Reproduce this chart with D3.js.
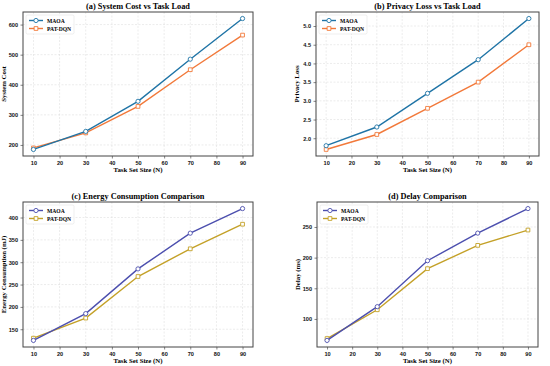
<!DOCTYPE html>
<html>
<head>
<meta charset="utf-8">
<script src="https://cdn.jsdelivr.net/npm/d3@7"></script>
<style>
  body { margin: 0; background: #fff; }
  svg { display: block; font-family: "Liberation Serif", "Times New Roman", serif; font-weight: bold; }
  .grid line { stroke: #d8d8d8; stroke-dasharray: 2,1.5; stroke-width: 0.5; }
  .axis path { display: none; }
  .axis line { stroke: #333; stroke-width: 0.6; }
  .axis text { font-size: 5.6px; font-weight: bold; fill: #111; }
</style>
</head>
<body>
<script>
'use strict';
/* global d3 */

// task set sizes shared by all four panels
const taskSizes = [10, 30, 50, 70, 90];
const xTicks = [10, 20, 30, 40, 50, 60, 70, 80, 90];

const costMAOA = [185, 245, 345, 485, 620];
const costPAT = [190, 240, 328, 450, 565];
const costTicks = [200, 300, 400, 500, 600];

const privMAOA = [1.8, 2.3, 3.2, 4.1, 5.2];
const privPAT = [1.7, 2.1, 2.8, 3.5, 4.5];
const privTicks = [2.0, 2.5, 3.0, 3.5, 4.0, 4.5, 5.0];

const energyMAOA = [125, 185, 285, 365, 420];
const energyPAT = [130, 175, 268, 330, 385];
const energyTicks = [150, 200, 250, 300, 350, 400];

const delayMAOA = [65, 120, 195, 240, 280];
const delayPAT = [68, 115, 182, 220, 245];
const delayTicks = [100, 150, 200, 250];

const panels = [
  { title: '(a) System Cost vs Task Load', ylabel: 'System Cost', a: costMAOA, b: costPAT,
    ticks: costTicks, fmt: d3.format('d'), colA: '#1f74a6', colB: '#f2793a',
    box: { l: 23, r: 253, t: 12, b: 156 } },
  { title: '(b) Privacy Loss vs Task Load', ylabel: 'Privacy Loss', a: privMAOA, b: privPAT,
    ticks: privTicks, fmt: d3.format('.1f'), colA: '#1f74a6', colB: '#f2793a',
    box: { l: 316, r: 539, t: 12, b: 156 } },
  { title: '(c) Energy Consumption Comparison', ylabel: 'Energy Consumption (mJ)', a: energyMAOA, b: energyPAT,
    ticks: energyTicks, fmt: d3.format('d'), colA: '#4c4fae', colB: '#c4a128',
    box: { l: 23, r: 253, t: 202, b: 347 } },
  { title: '(d) Delay Comparison', ylabel: 'Delay (ms)', a: delayMAOA, b: delayPAT,
    ticks: delayTicks, fmt: d3.format('d'), colA: '#4c4fae', colB: '#c4a128',
    box: { l: 317, r: 538, t: 202, b: 347 } }
];

const svg = d3.select('body').append('svg')
  .attr('width', 550)
  .attr('height', 366);

panels.forEach(function (p) {
  let bx = p.box;
  let all = p.a.concat(p.b);
  let lo = d3.min(all), hi = d3.max(all), pad = (hi - lo) * 0.05;

  let x = d3.scaleLinear().domain([6, 94]).range([bx.l, bx.r]);
  let y = d3.scaleLinear().domain([lo - pad, hi + pad]).range([bx.b, bx.t]);

  let g = svg.append('g');

  // grid
  g.append('g').attr('class', 'grid')
    .selectAll('line.v').data(xTicks).join('line')
    .attr('x1', d => x(d)).attr('x2', d => x(d))
    .attr('y1', bx.t).attr('y2', bx.b);
  g.append('g').attr('class', 'grid')
    .selectAll('line.h').data(p.ticks).join('line')
    .attr('x1', bx.l).attr('x2', bx.r)
    .attr('y1', d => y(d)).attr('y2', d => y(d));

  g.append('g').attr('class', 'axis')
    .attr('transform', 'translate(0,' + bx.b + ')')
    .call(d3.axisBottom(x).tickValues(xTicks).tickSize(2.5).tickPadding(2.5));
  g.append('g').attr('class', 'axis')
    .attr('transform', 'translate(' + bx.l + ',0)')
    .call(d3.axisLeft(y).tickValues(p.ticks).tickFormat(p.fmt).tickSize(2.5).tickPadding(2.5));

  // frame
  g.append('rect')
    .attr('x', bx.l).attr('y', bx.t)
    .attr('width', bx.r - bx.l).attr('height', bx.b - bx.t)
    .attr('fill', 'none').attr('stroke', '#444').attr('stroke-width', 1);

  let line = d3.line().x((d, i) => x(taskSizes[i])).y(d => y(d));

  [[p.b, p.colB, 'square'], [p.a, p.colA, 'circle']].forEach(function (s) {
    g.append('path').datum(s[0])
      .attr('d', line)
      .attr('fill', 'none')
      .attr('stroke', s[1])
      .attr('stroke-width', 1.4);
    let sym = s[2] === 'circle' ? d3.symbolCircle : d3.symbolSquare;
    let sz = s[2] === 'circle' ? 14 : 14;
    g.selectAll(null).data(s[0]).join('path')
      .attr('d', d3.symbol().type(sym).size(sz))
      .attr('transform', (d, i) => 'translate(' + x(taskSizes[i]) + ',' + y(d) + ')')
      .attr('fill', '#fff')
      .attr('stroke', s[1])
      .attr('stroke-width', 0.9);
  });

  // title and labels
  g.append('text')
    .attr('x', (bx.l + bx.r) / 2).attr('y', bx.t - 3)
    .attr('text-anchor', 'middle')
    .attr('font-size', 8.3)
    .text(p.title);
  g.append('text')
    .attr('x', (bx.l + bx.r) / 2).attr('y', bx.b + 16)
    .attr('text-anchor', 'middle')
    .attr('font-size', 6.8)
    .text('Task Set Size (N)');
  g.append('text')
    .attr('transform', 'translate(' + (bx.l - 17) + ',' + ((bx.t + bx.b) / 2) + ') rotate(-90)')
    .attr('text-anchor', 'middle')
    .attr('font-size', 6.8)
    .text(p.ylabel);

  // legend
  let lg = g.append('g').attr('transform', 'translate(' + (bx.l + 3) + ',' + (bx.t + 3) + ')');
  lg.append('rect')
    .attr('width', 48).attr('height', 19).attr('rx', 1.5)
    .attr('fill', '#fff').attr('fill-opacity', 0.8)
    .attr('stroke', '#ddd').attr('stroke-width', 0.5);
  [['MAOA', p.colA, d3.symbolCircle], ['PAT-DQN', p.colB, d3.symbolSquare]].forEach(function (e, i) {
    let yy = 5.5 + i * 8;
    lg.append('line')
      .attr('x1', 3).attr('x2', 17).attr('y1', yy).attr('y2', yy)
      .attr('stroke', e[1]).attr('stroke-width', 1.4);
    lg.append('path')
      .attr('d', d3.symbol().type(e[2]).size(14))
      .attr('transform', 'translate(10,' + yy + ')')
      .attr('fill', '#fff').attr('stroke', e[1]).attr('stroke-width', 0.9);
    lg.append('text')
      .attr('x', 21).attr('y', yy + 2)
      .attr('font-size', 5.6)
      .text(e[0]);
  });
});
</script>
</body>
</html>
